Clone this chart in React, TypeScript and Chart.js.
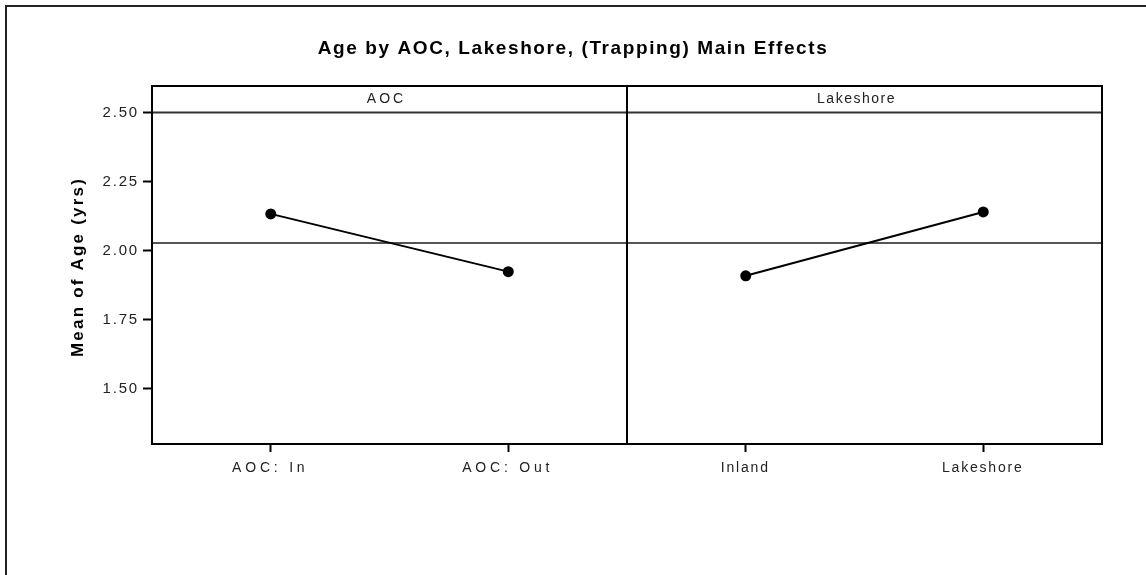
import React, { useEffect, useRef } from "react";
import { Chart, registerables } from "chart.js";

Chart.register(...registerables);

const chartTitle = "Age by AOC, Lakeshore, (Trapping) Main Effects";
const yAxisTitle = "Mean of Age (yrs)";
const categories = ["AOC: In", "AOC: Out", "Inland", "Lakeshore"];
const panelLabels = ["AOC", "Lakeshore"];
const aocMeans = [2.133, 1.924, null, null];
const lakeshoreMeans = [null, null, 1.909, 2.14];
const yTicks = [1.5, 1.75, 2.0, 2.25, 2.5];
const overallMean = 2.028;
const yMin = 1.3;
const yMax = 2.596;
const stripTop = 2.5;

const FONT = "'Liberation Sans', Arial, sans-serif";

const panelPlugin = {
  id: "panels",
  beforeDraw(chart: any) {
    const ctx = chart.ctx;
    ctx.save();
    ctx.fillStyle = "#ffffff";
    ctx.fillRect(0, 0, chart.width, chart.height);
    ctx.restore();
    ctx.letterSpacing = "1.8px";
  },
  beforeDatasetsDraw(chart: any) {
    const ctx = chart.ctx;
    const { left, right } = chart.chartArea;
    const y = chart.scales.y.getPixelForValue(overallMean);
    ctx.save();
    ctx.strokeStyle = "#555555";
    ctx.lineWidth = 2;
    ctx.beginPath();
    ctx.moveTo(left, y);
    ctx.lineTo(right, y);
    ctx.stroke();
    ctx.restore();
  },
  afterDraw(chart: any) {
    const ctx = chart.ctx;
    const { left, right, top, bottom } = chart.chartArea;
    const yS = chart.scales.y;
    const xS = chart.scales.x;
    const mid = (left + right) / 2;
    const yStrip = yS.getPixelForValue(stripTop);
    ctx.save();
    // outer frame
    ctx.strokeStyle = "#222222";
    ctx.lineWidth = 2;
    ctx.beginPath();
    ctx.moveTo(6, chart.height + 5);
    ctx.lineTo(6, 6);
    ctx.lineTo(chart.width + 5, 6);
    ctx.stroke();
    // strip line
    ctx.strokeStyle = "#333333";
    ctx.lineWidth = 2;
    ctx.beginPath();
    ctx.moveTo(left, yStrip);
    ctx.lineTo(right, yStrip);
    ctx.stroke();
    // plot border
    ctx.strokeStyle = "#000000";
    ctx.lineWidth = 2;
    ctx.strokeRect(left, top, right - left, bottom - top);
    ctx.beginPath();
    ctx.moveTo(mid, top);
    ctx.lineTo(mid, bottom);
    ctx.stroke();
    // strip labels
    ctx.fillStyle = "#222222";
    ctx.font = `14px ${FONT}`;
    ctx.textAlign = "center";
    ctx.textBaseline = "middle";
    ctx.letterSpacing = "3px";
    ctx.fillText(panelLabels[0], (left + mid) / 2 - 3, (top + yStrip) / 2);
    ctx.letterSpacing = "1.5px";
    ctx.fillText(panelLabels[1], (mid + right) / 2 - 8, (top + yStrip) / 2);
    // x tick labels
    ctx.font = `14px ${FONT}`;
    categories.forEach((c, i) => {
      ctx.letterSpacing = i < 2 ? "3.8px" : "1.8px";
      ctx.fillText(c, xS.getPixelForValue(i) - 0.5, 468);
    });
    // title
    ctx.fillStyle = "#000000";
    ctx.letterSpacing = "1.6px";
    ctx.font = `bold 19px ${FONT}`;
    ctx.fillText(chartTitle, chart.width / 2, 49);
    // y title
    ctx.translate(78, (top + bottom) / 2 + 2);
    ctx.rotate(-Math.PI / 2);
    ctx.letterSpacing = "2.2px";
    ctx.font = `bold 17px ${FONT}`;
    ctx.fillText(yAxisTitle, 0, 0);
    ctx.restore();
  },
};

export default function App() {
  const ref = useRef<HTMLCanvasElement>(null);
  useEffect(() => {
    document.body.style.margin = "0";
    const chart = new Chart(ref.current as HTMLCanvasElement, {
      type: "line",
      data: {
        labels: categories,
        datasets: [
          {
            label: panelLabels[0],
            data: aocMeans,
            borderColor: "#000000",
            backgroundColor: "#000000",
            borderWidth: 2,
            pointRadius: 5.5,
            pointBackgroundColor: "#000000",
            pointBorderWidth: 0,
            spanGaps: false,
          },
          {
            label: panelLabels[1],
            data: lakeshoreMeans,
            borderColor: "#000000",
            backgroundColor: "#000000",
            borderWidth: 2,
            pointRadius: 5.5,
            pointBackgroundColor: "#000000",
            pointBorderWidth: 0,
            spanGaps: false,
          },
        ],
      },
      options: {
        responsive: false,
        animation: false,
        layout: { padding: { left: 0, top: 86, right: 44, bottom: 0 } },
        plugins: {
          legend: { display: false },
          tooltip: { enabled: false },
          title: { display: false },
        },
        scales: {
          x: {
            type: "category",
            offset: true,
            border: { display: false },
            grid: {
              display: true,
              drawOnChartArea: false,
              drawTicks: true,
              tickLength: 8,
              tickWidth: 2,
              tickColor: "#000000",
              offset: false,
            },
            ticks: {
              display: false,
              maxRotation: 0,
              autoSkip: false,
            },
            afterFit: (scale: any) => {
              scale.height = 131;
            },
          },
          y: {
            min: yMin,
            max: yMax,
            border: { display: false },
            grid: {
              display: true,
              drawOnChartArea: false,
              drawTicks: true,
              tickLength: 9,
              tickWidth: 2,
              tickColor: "#000000",
            },
            afterBuildTicks: (scale: any) => {
              scale.ticks = yTicks.map((v) => ({ value: v }));
            },
            ticks: {
              color: "#222222",
              font: { family: FONT, size: 15 },
              padding: 4,
              callback: (v: any) => Number(v).toFixed(2),
            },
            afterFit: (scale: any) => {
              scale.width = 152;
            },
          },
        },
      },
      plugins: [panelPlugin],
    });
    return () => chart.destroy();
  }, []);
  return (
    <div style={{ width: 1146, height: 575 }}>
      <canvas ref={ref} width={1146} height={575} style={{ display: "block" }} />
    </div>
  );
}
